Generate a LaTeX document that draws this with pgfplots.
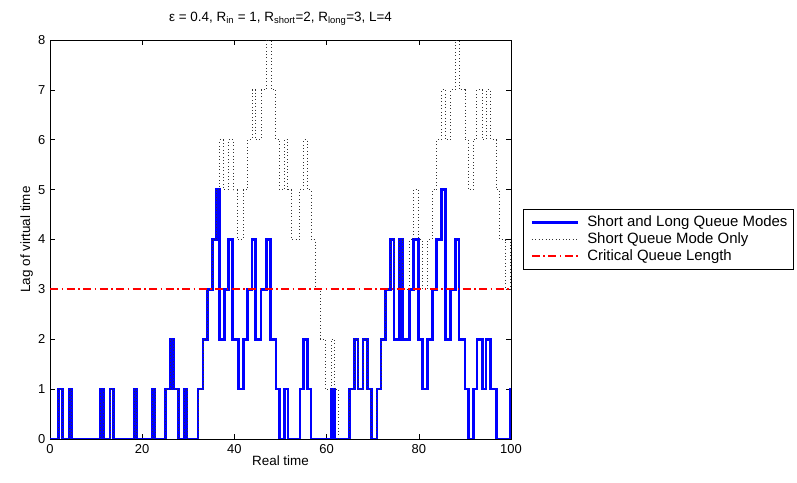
\documentclass[border=0pt]{standalone}
\usepackage{pgfplots}
\pgfplotsset{compat=1.18}
\usepackage{fontspec}
\setmainfont{Liberation Sans}
\begin{document}
\fontsize{13.5}{16}\selectfont
\begin{tikzpicture}
\begin{axis}[
  name=ax,
  scale only axis,
  width=461bp, height=399bp,
  xmin=0, xmax=100, ymin=0, ymax=8,
  xtick={0,20,40,60,80,100},
  ytick={0,1,2,3,4,5,6,7,8},
  tick align=inside,
  xtick pos=both, ytick pos=both,
  major tick length=5bp,
  axis line style={black, line width=0.6bp},
  every tick/.style={black, line width=0.6bp},
  /pgf/number format/assume math mode=true,
  ticklabel style={font=\fontsize{13}{15}\selectfont},
  xticklabel style={yshift=-1bp},
  xlabel={Real time},
  ylabel={Lag of virtual time},
  xlabel style={yshift=7bp},
  ylabel style={yshift=-4bp},
  title={ε = 0.4, R\textsubscript{in} = 1, R\textsubscript{short}=2, R\textsubscript{long}=3, L=4},
  title style={yshift=4bp},
  legend style={at={(1.0265,0.577)}, anchor=north west, draw=black, line width=0.7bp,
    font=\fontsize{15}{17.5}\selectfont, row sep=0bp, inner xsep=4bp, inner ysep=5bp},
  legend cell align=left,
  legend image code/.code={\path (-3bp,0bp) (52bp,0bp); \draw[#1] (0bp,0bp) -- (46bp,0bp);},
]
\addplot[const plot, blue, line width=2.7bp] coordinates {
(0,0)(1.9,1)(2.7,0)(4.1,1)(4.7,0)(11.0,1)(11.6,0)(13.0,1)(13.8,0)(18.2,1)(18.7,0)(22.3,1)(22.8,0)
(25.0,1)(26.2,2)(26.8,1)(27.9,0)(29.1,1)(29.7,0)(32.1,1)(33.2,2)(34.2,3)(35.2,4)(36.1,5)(36.8,2)
(37.8,3)(38.7,4)(39.6,2)(40.9,1)(41.9,2)(42.9,3)(43.8,4)(44.6,2)(45.8,3)(46.9,4)(47.8,2)(49.0,1)
(49.8,0)(50.9,1)(51.6,0)(54.2,1)(55.0,2)(55.8,1)(56.6,0)(61.0,1)(61.7,0)(65.0,1)(66.0,2)(66.8,1)
(67.9,2)(68.8,1)(69.7,0)(70.9,1)(71.8,2)(72.8,3)(73.9,4)(74.6,2)(75.8,4)(76.5,2)(78.0,3)(78.8,4)
(80.0,2)(80.8,1)(81.9,2)(82.9,3)(83.9,4)(84.9,5)(85.8,2)(86.9,3)(87.9,4)(88.7,2)(90.0,1)(90.8,0)
(91.8,1)(92.6,2)(93.8,1)(94.6,2)(95.6,1)(96.8,0)(99.8,1)(100,1)
};
\addlegendentry{Short and Long Queue Modes}
\addplot[const plot, black!80, line width=0.8bp, dash pattern=on 0.8bp off 2.6bp] coordinates {
(0,0)(1.9,1)(2.7,0)(4.1,1)(4.7,0)(11.0,1)(11.6,0)(13.0,1)(13.8,0)(18.2,1)(18.7,0)(22.3,1)(22.8,0)
(25.0,1)(26.2,2)(26.8,1)(27.9,0)(29.1,1)(29.7,0)(32.1,1)(33.2,2)(34.2,3)(35.2,4)(36.1,5)
(36.8,6)(37.6,5)(38.7,6)(39.8,5)(40.6,4)(41.9,5)(42.9,6)(43.8,7)(44.6,6)(45.8,7)(46.9,8)(48.0,7)
(49.0,6)(49.8,5)(50.9,6)(51.6,5)(52.4,4)(54.2,5)(55.0,6)(55.8,5)(56.6,4)(57.5,3)(58.6,2)(59.7,1)
(61.0,2)(61.7,1)(62.6,0)(65.0,1)(66.0,2)(66.8,1)(67.9,2)(68.8,1)(69.7,0)(70.9,1)(71.8,2)(72.8,3)
(73.9,4)(74.6,3)(75.8,4)(76.5,3)(78.0,4)(78.8,5)(80.0,4)(80.8,3)(81.9,4)(82.9,5)(83.9,6)(84.9,7)
(85.8,6)(86.9,7)(87.9,8)(88.7,7)(90.0,6)(90.8,5)(91.8,6)(92.6,7)(93.8,6)(94.6,7)(95.6,6)(96.8,5)
(97.5,4)(98.8,3)(99.8,4)(100,4)
};
\addlegendentry{Short Queue Mode Only}
\addplot[red, line width=1.9bp, dash pattern=on 8bp off 3.5bp on 1.5bp off 3.5bp] coordinates {(0,3)(100,3)};
\addlegendentry{Critical Queue Length}
\end{axis}
\pgfresetboundingbox
\useasboundingbox (ax.south west) ++(-50bp,-44bp) rectangle ++(797bp,483bp);
\end{tikzpicture}
\end{document}
